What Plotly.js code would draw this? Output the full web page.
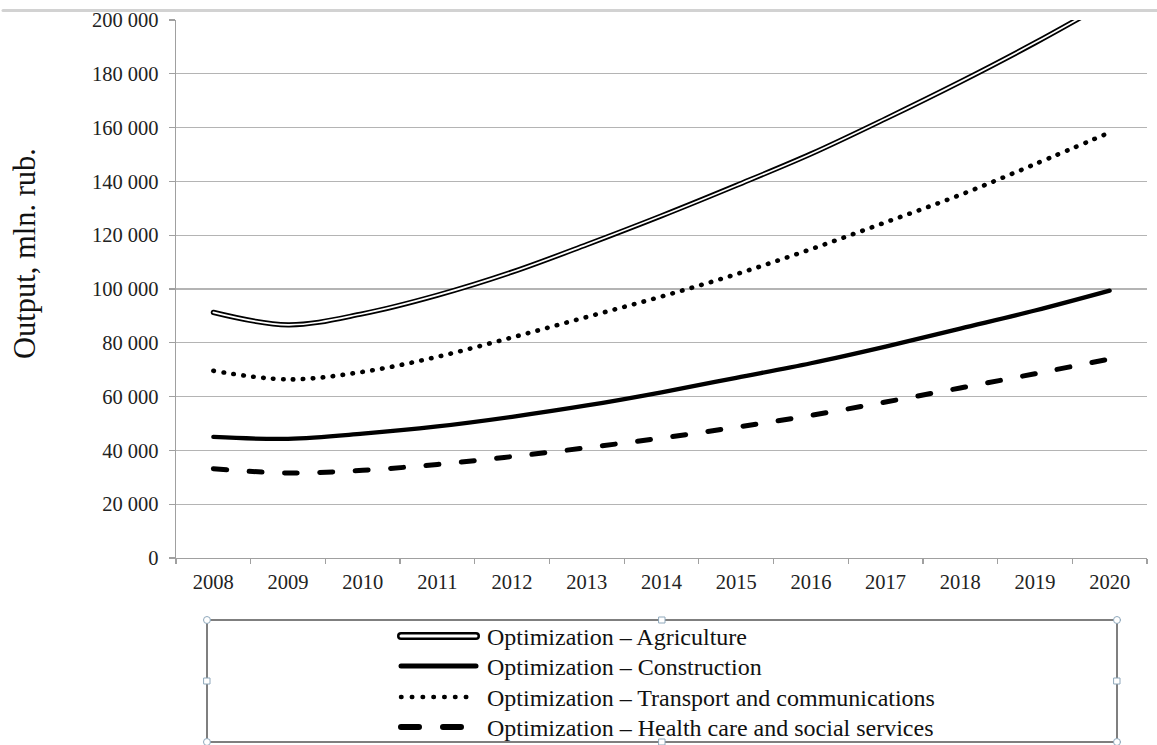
<!DOCTYPE html>
<html>
<head>
<meta charset="utf-8">
<script src="https://cdn.plot.ly/plotly-3.0.1.min.js"></script>
<style>
html,body{margin:0;padding:0;background:#fff;}
#chart{width:1157px;height:745px;}
.scatterlayer .js-line{stroke-linecap:round;stroke-linejoin:round;}
.shapelayer path{stroke-linecap:round;}
</style>
</head>
<body>
<div id="chart"></div>
<script>
// ---- data ----
const years = ["2008","2009","2010","2011","2012","2013","2014","2015","2016","2017","2018","2019","2020"];
const agriculture = [91300, 86700, 90800, 97700, 106300, 116500, 127200, 138500, 150200, 163300, 177000, 191500, 207000];
const construction = [45000, 44300, 46200, 48900, 52500, 56700, 61600, 67000, 72400, 78600, 85300, 92000, 99400];
const transport = [69600, 66400, 69200, 74800, 82000, 89600, 97200, 105500, 114800, 124800, 135000, 146400, 158200];
const health = [33200, 31600, 32600, 34800, 37700, 41000, 44600, 48600, 53000, 58000, 63200, 68500, 74000];
const seriesNames = [
  "Optimization \u2013 Agriculture",
  "Optimization \u2013 Construction",
  "Optimization \u2013 Transport and communications",
  "Optimization \u2013 Health care and social services"
];
const yTitle = "Output, mln. rub.";

// ---- layout helpers (pixel -> paper) ----
const L = 176, R = 1147, T = 20, B = 558;
const px = x => (x - L) / (R - L);
const py = y => (B - y) / (B - T);
const FONT = "Liberation Serif, Times New Roman, serif";

const base = {x: years, mode: "lines", hoverinfo: "skip", showlegend: false};
const traces = [
  Object.assign({}, base, {y: agriculture, line: {color: "#000", width: 5.2, shape: "spline"}}),
  Object.assign({}, base, {y: agriculture, line: {color: "#fff", width: 1.7, shape: "spline"}}),
  Object.assign({}, base, {y: construction, line: {color: "#000", width: 4.3, shape: "spline"}}),
  Object.assign({}, base, {y: transport, line: {color: "#000", width: 4.6, shape: "spline", dash: "0.5px,9.5px"}}),
  Object.assign({}, base, {y: health, line: {color: "#000", width: 5, shape: "spline", dash: "13px,22.5px"}})
];

// ---- custom legend ----
const lx0 = 401, lx1 = 476;
const rows = [636, 666, 697, 727];
const shapes = [
  // top grey rule
  {type: "line", xref: "paper", yref: "paper", x0: px(3), x1: px(1157), y0: py(10.5), y1: py(10.5), line: {color: "#d2d2d2", width: 3}},
  // legend box
  {type: "rect", xref: "paper", yref: "paper", x0: px(207), x1: px(1117), y0: py(620), y1: py(742), line: {color: "#555", width: 1.5}},
  // samples
  {type: "line", xref: "paper", yref: "paper", x0: px(lx0), x1: px(lx1), y0: py(rows[0]), y1: py(rows[0]), line: {color: "#000", width: 8}},
  {type: "line", xref: "paper", yref: "paper", x0: px(lx0), x1: px(lx1), y0: py(rows[0]), y1: py(rows[0]), line: {color: "#fff", width: 3}},
  {type: "line", xref: "paper", yref: "paper", x0: px(lx0), x1: px(lx1), y0: py(rows[1]), y1: py(rows[1]), line: {color: "#000", width: 5}},
  {type: "line", xref: "paper", yref: "paper", x0: px(lx0), x1: px(lx1), y0: py(rows[2]), y1: py(rows[2]), line: {color: "#000", width: 4.5, dash: "0.5px,10.3px"}},
  {type: "line", xref: "paper", yref: "paper", x0: px(401), x1: px(461), y0: py(rows[3]), y1: py(rows[3]), line: {color: "#000", width: 6, dash: "18px,24px"}}
];
// selection handles
const circ = [[207,620],[1117,620],[207,742],[1117,742]];
circ.forEach(([cx, cy]) => shapes.push({type: "circle", xref: "paper", yref: "paper",
  x0: px(cx - 3.5), x1: px(cx + 3.5), y0: py(cy + 3.5), y1: py(cy - 3.5),
  fillcolor: "#fff", line: {color: "#8fa8bb", width: 1}}));
const sq = [[662,620],[207,681],[1117,681],[662,742]];
sq.forEach(([cx, cy]) => shapes.push({type: "rect", xref: "paper", yref: "paper",
  x0: px(cx - 3), x1: px(cx + 3), y0: py(cy + 3), y1: py(cy - 3),
  fillcolor: "#fff", line: {color: "#8fa8bb", width: 1}}));

const annotations = seriesNames.map((t, i) => ({
  text: t, xref: "paper", yref: "paper", x: px(485), y: py(rows[i] + 1),
  xanchor: "left", yanchor: "middle", showarrow: false,
  font: {family: FONT, size: 24, color: "#111"}
}));
annotations.push({
  text: yTitle, xref: "paper", yref: "paper", x: px(25), y: py(254),
  xanchor: "center", yanchor: "middle", textangle: -90, showarrow: false,
  font: {family: FONT, size: 30.5, color: "#111"}
});

const layout = {
  width: 1157, height: 745,
  margin: {l: L, r: 1157 - R, t: T, b: 745 - B, autoexpand: false},
  paper_bgcolor: "#fff", plot_bgcolor: "#fff",
  separators: ". ",
  showlegend: false,
  font: {family: FONT, size: 20.5, color: "#222"},
  xaxis: {
    type: "category", range: [-0.5, 12.5], tickson: "boundaries",
    ticks: "outside", ticklen: 5, tickcolor: "#a0a0a0", tickwidth: 1.3,
    showline: true, linecolor: "#a0a0a0", linewidth: 1.3,
    showgrid: false, zeroline: false, fixedrange: true, ticklabelstandoff: 5,
    tickfont: {family: FONT, size: 20.5, color: "#222"}
  },
  yaxis: {
    range: [0, 200000], dtick: 20000, tick0: 0, tickformat: ",d",
    ticks: "outside", ticklen: 6, tickcolor: "#a0a0a0", tickwidth: 1.3,
    showline: true, linecolor: "#a0a0a0", linewidth: 1.3,
    showgrid: true, gridcolor: "#b4b4b4", gridwidth: 1.3,
    zeroline: false, fixedrange: true, ticklabelstandoff: 6,
    tickfont: {family: FONT, size: 20.5, color: "#222"}
  },
  shapes: shapes,
  annotations: annotations
};

Plotly.newPlot("chart", traces, layout, {staticPlot: true, displayModeBar: false});
</script>
</body>
</html>
